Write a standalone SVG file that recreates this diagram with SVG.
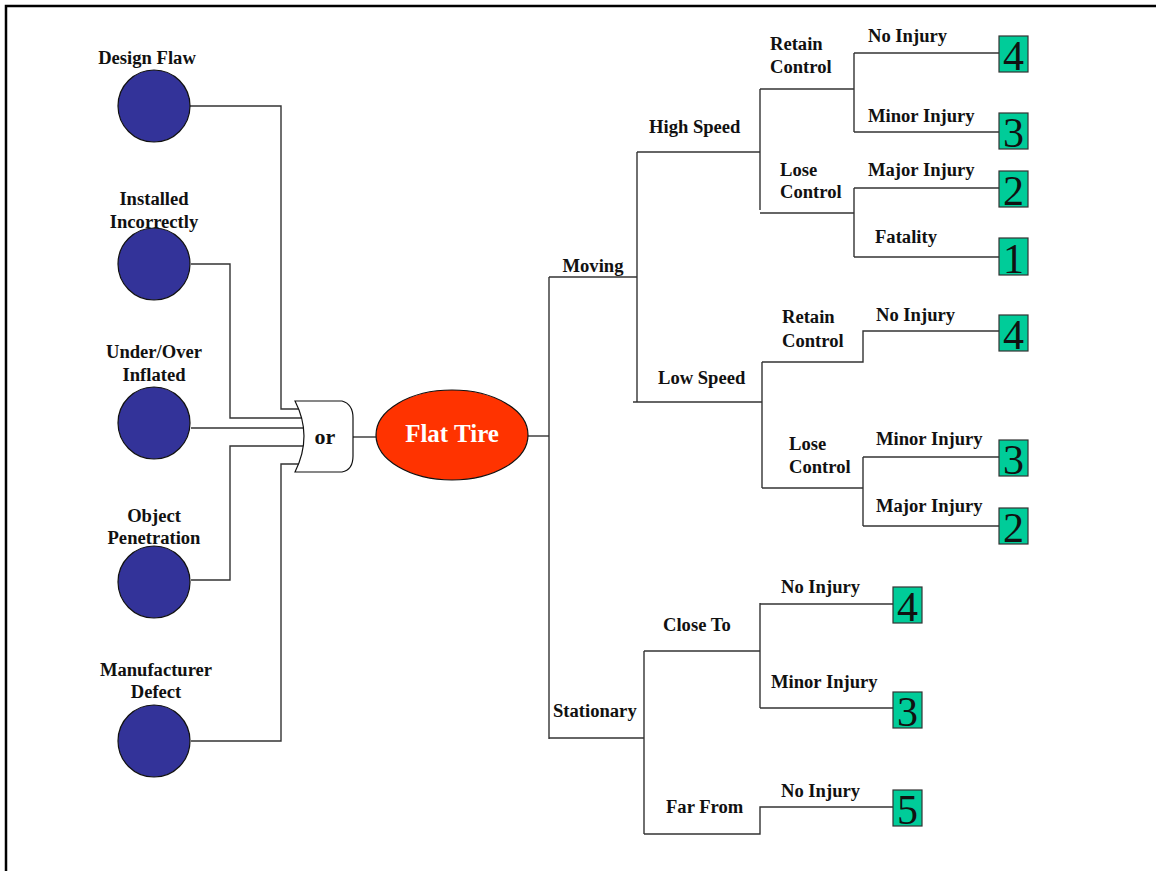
<svg xmlns="http://www.w3.org/2000/svg" width="1156" height="871" viewBox="0 0 1156 871">
  <style>
    .lbl { font-family: "Liberation Serif", "Times New Roman", serif; font-weight: bold; font-size: 18.6px; fill: #111; }
    .mid { text-anchor: middle; }
    .wire { fill: none; stroke: #333; stroke-width: 1.4; }
    .cause { fill: #333399; stroke: #111; stroke-width: 1.2; }
    .score rect { fill: #00CC99; stroke: #333; stroke-width: 1.2; }
    .score text { font-family: "Liberation Serif", "Times New Roman", serif; font-size: 42px; fill: #111; text-anchor: middle; }
  </style>

  <rect x="0" y="0" width="1156" height="871" fill="#fff"/>
  <!-- frame: top and left edges only -->
  <path d="M6,871 V6 H1156" fill="none" stroke="#000" stroke-width="2.5"/>

  <!-- connectors -->
  <g id="connectors" class="wire">
    <!-- causes into OR gate -->
    <path d="M190,106 H281 V409 H300"/>
    <path d="M191,264 H230 V418 H305"/>
    <path d="M191,428 H305"/>
    <path d="M191,580 H230 V446 H305"/>
    <path d="M191,741 H281 V464 H300"/>
    <!-- gate to top event -->
    <path d="M353,437 H376"/>
    <!-- top event to states -->
    <path d="M528,436 H549"/>
    <path d="M549,277 V739"/>
    <path d="M549,277 H637"/>
    <path d="M549,738 H644"/>
    <!-- moving -->
    <path d="M637,152 V402"/>
    <path d="M637,152 H760"/>
    <path d="M633,402 H762"/>
    <!-- high speed -->
    <path d="M760,89 V210"/>
    <path d="M760,89 H854"/>
    <path d="M760,213 H854"/>
    <path d="M854,53 V132"/>
    <path d="M854,53 H999"/>
    <path d="M854,132 H999"/>
    <path d="M854,188 V257"/>
    <path d="M854,188 H999"/>
    <path d="M854,257 H999"/>
    <!-- low speed -->
    <path d="M762,362 V488"/>
    <path d="M762,362 H863 V331 H999"/>
    <path d="M762,488 H863"/>
    <path d="M863,457 V526"/>
    <path d="M863,457 H999"/>
    <path d="M863,526 H999"/>
    <!-- stationary -->
    <path d="M644,651 V834"/>
    <path d="M644,651 H760"/>
    <path d="M760,603 V708"/>
    <path d="M760,604 H893"/>
    <path d="M760,708 H893"/>
    <path d="M644,834 H760 V807 H893"/>
  </g>

  <!-- basic causes -->
  <g id="design-flaw">
    <circle class="cause" cx="154" cy="106" r="36"/>
    <text class="lbl mid" x="147" y="64">Design Flaw</text>
  </g>
  <g id="installed-incorrectly">
    <circle class="cause" cx="154" cy="264" r="36"/>
    <text class="lbl mid" x="154" y="205">Installed</text>
    <text class="lbl mid" x="154" y="228">Incorrectly</text>
  </g>
  <g id="under-over-inflated">
    <circle class="cause" cx="154" cy="423" r="36"/>
    <text class="lbl mid" x="154" y="358">Under/Over</text>
    <text class="lbl mid" x="154" y="381">Inflated</text>
  </g>
  <g id="object-penetration">
    <circle class="cause" cx="154" cy="582" r="36"/>
    <text class="lbl mid" x="154" y="522">Object</text>
    <text class="lbl mid" x="154" y="544">Penetration</text>
  </g>
  <g id="manufacturer-defect">
    <circle class="cause" cx="154" cy="741" r="36"/>
    <text class="lbl mid" x="156" y="676">Manufacturer</text>
    <text class="lbl mid" x="156" y="698">Defect</text>
  </g>

  <!-- OR gate -->
  <g id="or-gate">
    <path d="M295,401 L342,401 Q353,404 353,418 L353,456 Q353,470 342,472 L295,472 Q313,436 295,401 Z" fill="#fff" stroke="#111" stroke-width="1.2"/>
    <text class="lbl mid" x="325" y="444" style="font-size:22px">or</text>
  </g>

  <!-- top event -->
  <g id="flat-tire">
    <ellipse cx="452" cy="435" rx="76" ry="45" fill="#FF3300" stroke="#111" stroke-width="1.2"/>
    <text class="lbl mid" x="452" y="442" style="font-size:25px;fill:#fff">Flat Tire</text>
  </g>

  <!-- branch labels -->
  <g id="branch-labels">
    <text class="lbl mid" x="593" y="272">Moving</text>
    <text class="lbl" x="553" y="717">Stationary</text>
    <text class="lbl" x="649" y="133">High Speed</text>
    <text class="lbl" x="658" y="384">Low Speed</text>
    <text class="lbl" x="770" y="50">Retain</text>
    <text class="lbl" x="770" y="73">Control</text>
    <text class="lbl" x="780" y="176">Lose</text>
    <text class="lbl" x="780" y="198">Control</text>
    <text class="lbl" x="782" y="323">Retain</text>
    <text class="lbl" x="782" y="347">Control</text>
    <text class="lbl" x="789" y="450">Lose</text>
    <text class="lbl" x="789" y="473">Control</text>
    <text class="lbl" x="663" y="631">Close To</text>
    <text class="lbl" x="666" y="813">Far From</text>
    <text class="lbl" x="868" y="42">No Injury</text>
    <text class="lbl" x="868" y="122">Minor Injury</text>
    <text class="lbl" x="868" y="176">Major Injury</text>
    <text class="lbl" x="875" y="243">Fatality</text>
    <text class="lbl" x="876" y="321">No Injury</text>
    <text class="lbl" x="876" y="445">Minor Injury</text>
    <text class="lbl" x="876" y="512">Major Injury</text>
    <text class="lbl" x="781" y="593">No Injury</text>
    <text class="lbl" x="771" y="688">Minor Injury</text>
    <text class="lbl" x="781" y="797">No Injury</text>
  </g>

  <!-- outcome severity scores -->
  <g id="score-hs-retain-none" class="score"><rect x="999" y="36" width="29" height="36"/><text x="1013.5" y="70">4</text></g>
  <g id="score-hs-retain-minor" class="score"><rect x="999" y="113" width="29" height="36"/><text x="1013.5" y="147">3</text></g>
  <g id="score-hs-lose-major" class="score"><rect x="999" y="171" width="29" height="36"/><text x="1013.5" y="205">2</text></g>
  <g id="score-hs-lose-fatal" class="score"><rect x="999" y="238" width="29" height="37"/><text x="1013.5" y="273">1</text></g>
  <g id="score-ls-retain-none" class="score"><rect x="999" y="315" width="29" height="36"/><text x="1013.5" y="349">4</text></g>
  <g id="score-ls-lose-minor" class="score"><rect x="999" y="440" width="29" height="36"/><text x="1013.5" y="474">3</text></g>
  <g id="score-ls-lose-major" class="score"><rect x="999" y="508" width="29" height="36"/><text x="1013.5" y="542">2</text></g>
  <g id="score-close-none" class="score"><rect x="893" y="587" width="29" height="36"/><text x="907.5" y="621">4</text></g>
  <g id="score-close-minor" class="score"><rect x="893" y="692" width="29" height="36"/><text x="907.5" y="726">3</text></g>
  <g id="score-far-none" class="score"><rect x="893" y="790" width="29" height="36"/><text x="907.5" y="824">5</text></g>
</svg>
